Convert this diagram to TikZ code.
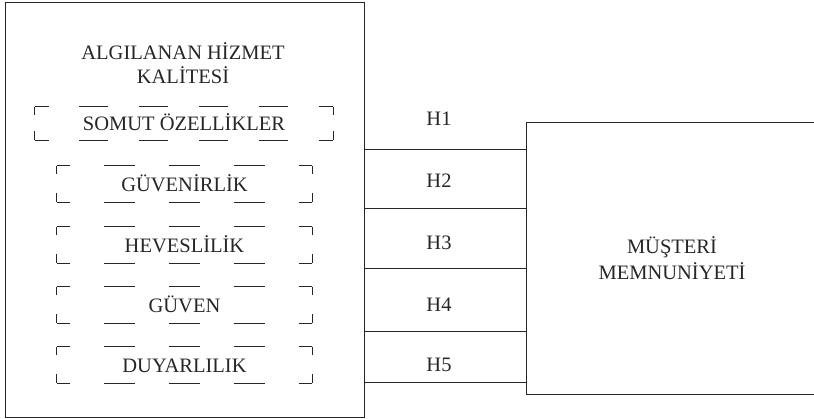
\documentclass[tikz,border=0pt]{standalone}
\usepackage{fontspec}
\setmainfont{Liberation Serif}
\begin{document}
\begin{tikzpicture}[x=1pt, y=-1pt, line width=0.8pt, color=black!85,
   every node/.style={font=\fontsize{20.5}{24}\selectfont},
   factor/.style={inner sep=0pt, minimum width=255pt, minimum height=36pt, text height=14pt, text depth=0pt},
   widefactor/.style={factor, minimum width=298pt, minimum height=33pt},
   hdash/.style={dash pattern=on 31pt off 34pt, dash phase=18pt},
   hdashwide/.style={dash pattern=on 29pt off 30.8pt, dash phase=15pt},
   vdash/.style={dash pattern=on 8.5pt off 19pt},
   vdashwide/.style={dash pattern=on 8.5pt off 16pt}]
   \useasboundingbox (0,0) rectangle (814,418);

   \node[draw, minimum width=359pt, minimum height=415pt] (algi) at (184.5,209.5) {};
   \node[align=center] (baslik) at (183,63) {ALGILANAN HİZMET\\KALİTESİ};
   \node[draw, minimum width=292pt, minimum height=272pt, align=center,
         font=\fontsize{20.5}{26.7}\selectfont] (musteri) at (672,258) {MÜŞTERİ\\MEMNUNİYETİ};

   \node[widefactor] (somut) at (184,123.5) {SOMUT ÖZELLİKLER};
   \node[factor] (guvenirlik) at (184.5,184) {GÜVENİRLİK};
   \node[factor] (heveslilik) at (184.5,245) {HEVESLİLİK};
   \node[factor] (guven) at (184.5,305) {GÜVEN};
   \node[factor] (duyarlilik) at (184.5,365) {DUYARLILIK};

   \draw[hdashwide] (somut.north west) -- (somut.north east) (somut.south west) -- (somut.south east);
   \draw[vdashwide] (somut.north west) -- (somut.south west) (somut.north east) -- (somut.south east);
   \foreach \n in {guvenirlik,heveslilik,guven,duyarlilik} {
      \draw[hdash] (\n.north west) -- (\n.north east) (\n.south west) -- (\n.south east);
      \draw[vdash] (\n.north west) -- (\n.south west) (\n.north east) -- (\n.south east);
   }

   \foreach \y/\ly [count=\i] in {149/119, 208/181, 268/243, 331/305, 382/365} {
      \draw (algi.east |- 0,\y) -- (musteri.west |- 0,\y);
      \node (h\i) at (439,\ly) {H\i};
   }
\end{tikzpicture}
\end{document}
